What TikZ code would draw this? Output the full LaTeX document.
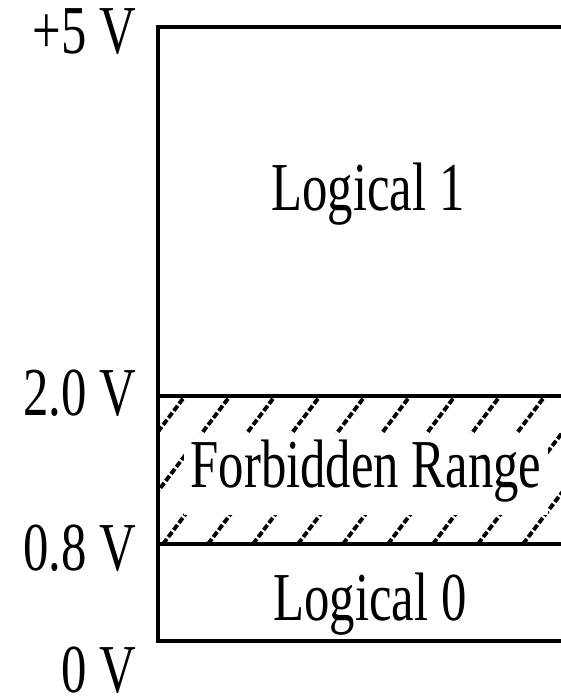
\documentclass[tikz,border=0pt]{standalone}
\usepackage{fontspec}
\setmainfont[FakeStretch=0.74]{Liberation Serif}
\begin{document}
\begin{tikzpicture}[x=0.01cm,y=-0.01cm,
    lvl/.style={anchor=base east,inner sep=0pt,font=\fontsize{19.5}{22}\selectfont},
    region/.style={anchor=base,inner sep=0pt,font=\fontsize{19.5}{22}\selectfont},
    hatch/.style={line width=1.1pt,dash pattern=on 1.8pt off 0.7pt}]
  \useasboundingbox (0,0) rectangle (561,697);
  % hatched forbidden band between 0.8 V and 2.0 V
  \begin{scope}
    \clip (158,396) rectangle (561,544);
    \foreach \k in {-3,...,9} \draw[hatch] (163+45*\k,544)--(275+45*\k,396);
  \end{scope}
  % outline of the voltage scale
  \draw[line width=1.2pt] (561,27)--(158,27)--(158,641)--(561,641);
  \draw[line width=1.2pt] (158,396)--(561,396) (158,544)--(561,544);
  % voltage levels
  \node[lvl] (v5) at (137,53) {+5 V};
  \node[lvl] (v2) at (137,415) {2.0 V};
  \node[lvl] (v08) at (137,570) {0.8 V};
  \node[lvl] (v0) at (137,692) {0 V};
  % regions
  \node[region] (one) at (368,210) {Logical 1};
  \node[region,fill=white,inner xsep=0.07cm,text height=0.54cm,text depth=0.28cm] (forbid) at (366,487) {Forbidden Range};
  \node[region] (zero) at (370,620) {Logical 0};
\end{tikzpicture}
\end{document}
